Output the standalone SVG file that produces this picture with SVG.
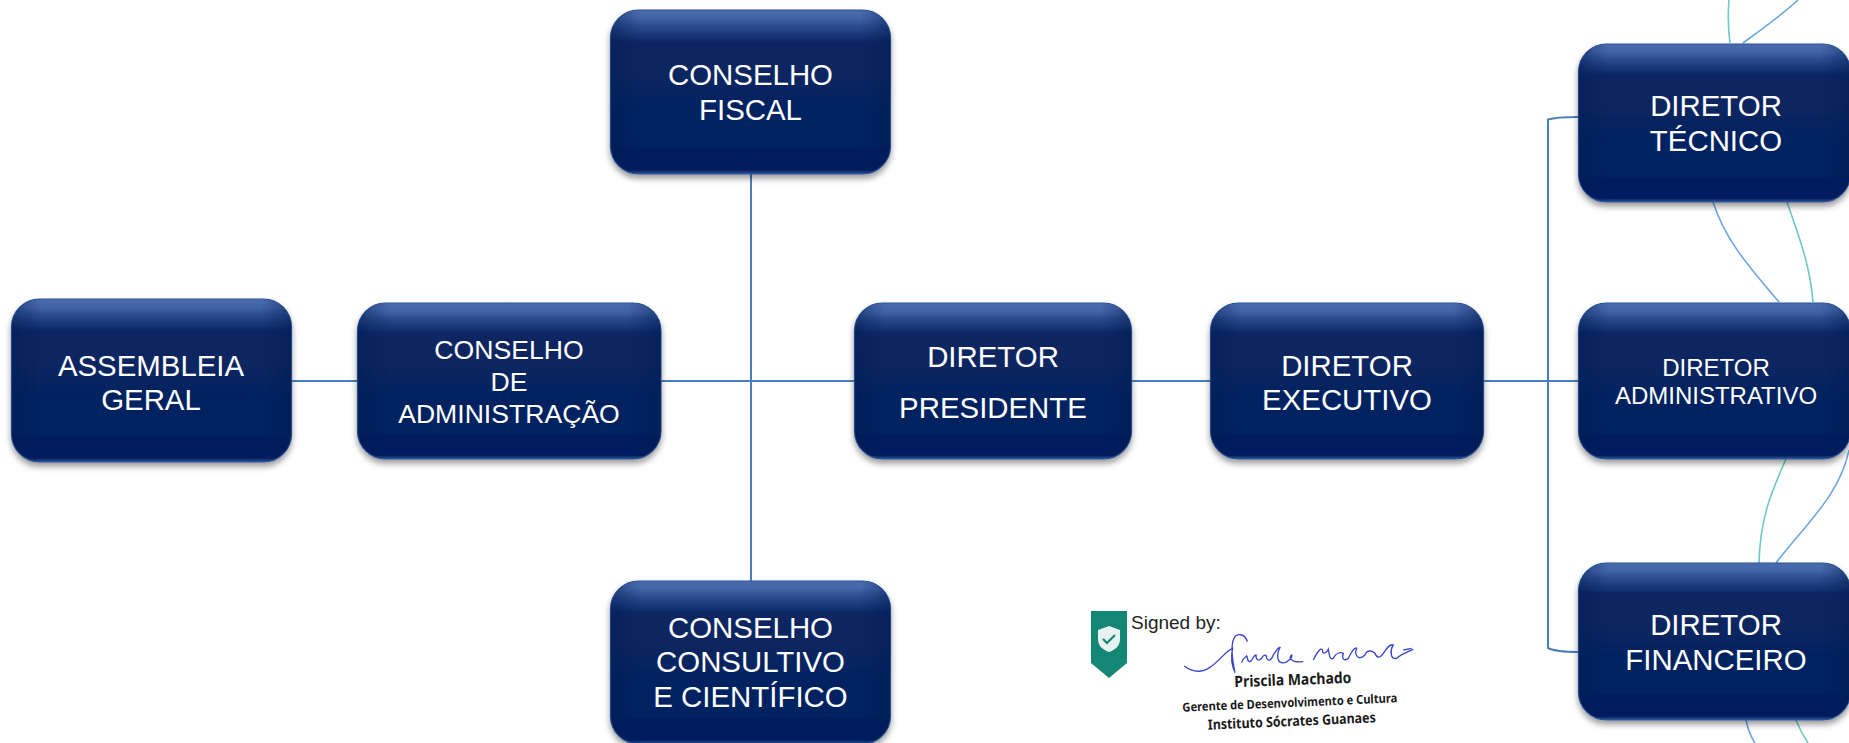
<svg xmlns="http://www.w3.org/2000/svg" width="1849" height="743" viewBox="0 0 1849 743">
<style>
.box{fill:url(#base);stroke:#2f5597;stroke-width:1.2;filter:url(#sh)}
.side{fill:url(#sideG)}
.t{font-family:"Liberation Sans",Arial,sans-serif;fill:#fff;text-anchor:middle;font-size:29.4px}
.s{font-size:26.6px}
.a{font-size:24px}
.main{fill:none;stroke:#4a7ebb;stroke-width:2}
.cb{fill:none;stroke:#6fa8dc;stroke-width:1.6}
.ct{fill:none;stroke:#6cc9c4;stroke-width:1.6}
.sig{font-family:"Noto Sans","Open Sans",sans-serif;font-weight:700;fill:#1a1a1a;text-anchor:middle}
</style>
<defs>
<linearGradient id="base" x1="0" y1="0" x2="0" y2="1">
<stop offset="0" stop-color="#4a6cae"/><stop offset=".05" stop-color="#4264a7"/><stop offset=".1" stop-color="#2b4b8d"/><stop offset=".2" stop-color="#082662"/><stop offset=".8" stop-color="#052360"/><stop offset=".87" stop-color="#001d5c"/><stop offset=".975" stop-color="#001e5e"/><stop offset="1" stop-color="#2f5597"/>
</linearGradient>
<linearGradient id="sideG" x1="0" y1="0" x2="1" y2="0">
<stop offset="0" stop-color="#001c55" stop-opacity=".5"/><stop offset=".05" stop-color="#001c55" stop-opacity=".25"/><stop offset=".11" stop-color="#001c55" stop-opacity="0"/><stop offset=".89" stop-color="#001c55" stop-opacity="0"/><stop offset=".95" stop-color="#001c55" stop-opacity=".25"/><stop offset="1" stop-color="#001c55" stop-opacity=".5"/>
</linearGradient>
<filter id="sh" x="-8%" y="-8%" width="116%" height="122%"><feDropShadow dx="0" dy="4" stdDeviation="3" flood-color="#000" flood-opacity=".4"/></filter>
</defs>
<g id="connectors">
<path class="main" d="M291 381H1578M751 174V581"/>
<path class="main" d="M1578 117Q1556 117 1548 119.500V648Q1556 652 1578 652"/>
<path class="ct" d="M1730 43C1728 28 1728 12 1729 0"/>
<path class="cb" d="M1743 43C1765 27 1782 15 1798 0"/>
<path class="cb" d="M1713 202C1725 240 1750 268 1779 302"/>
<path class="ct" d="M1787 202C1800 240 1810 265 1813 302"/>
<path class="ct" d="M1786 459C1770 495 1760 520 1759 563"/>
<path class="cb" d="M1849 450C1840 495 1805 525 1776 563"/>
<path class="cb" d="M1746 720C1748 730 1751 737 1755 743"/>
<path class="ct" d="M1796 720C1800 730 1804 737 1808 743"/>
</g>
<g id="assembleia"><rect class="box" x="11.500" y="299" width="280" height="163" rx="28"/><rect class="side" x="11.500" y="299" width="280" height="163" rx="28"/><text class="t" x="151" y="376">ASSEMBLEIA</text><text class="t" x="151" y="410">GERAL</text></g>
<g id="conselho-adm"><rect class="box" x="357.500" y="303" width="303.500" height="156" rx="28"/><rect class="side" x="357.500" y="303" width="303.500" height="156" rx="28"/><text class="t s" x="509" y="359">CONSELHO</text><text class="t s" x="509" y="391">DE</text><text class="t s" x="509" y="423">ADMINISTRAÇÃO</text></g>
<g id="conselho-fiscal"><rect class="box" x="610.500" y="10" width="280" height="164" rx="28"/><rect class="side" x="610.500" y="10" width="280" height="164" rx="28"/><text class="t" x="750.500" y="85">CONSELHO</text><text class="t" x="750.500" y="120">FISCAL</text></g>
<g id="conselho-consultivo"><rect class="box" x="610.500" y="581" width="280" height="163" rx="28"/><rect class="side" x="610.500" y="581" width="280" height="163" rx="28"/><text class="t" x="750.500" y="638">CONSELHO</text><text class="t" x="750.500" y="672">CONSULTIVO</text><text class="t" x="750.500" y="707">E CIENTÍFICO</text></g>
<g id="diretor-presidente"><rect class="box" x="854.500" y="303" width="277" height="156" rx="28"/><rect class="side" x="854.500" y="303" width="277" height="156" rx="28"/><text class="t" x="993" y="367">DIRETOR</text><text class="t" x="993" y="418">PRESIDENTE</text></g>
<g id="diretor-executivo"><rect class="box" x="1210.500" y="303" width="273" height="156" rx="28"/><rect class="side" x="1210.500" y="303" width="273" height="156" rx="28"/><text class="t" x="1347" y="376">DIRETOR</text><text class="t" x="1347" y="410">EXECUTIVO</text></g>
<g id="diretor-tecnico"><rect class="box" x="1578.500" y="44" width="272" height="158" rx="28"/><rect class="side" x="1578.500" y="44" width="272" height="158" rx="28"/><text class="t" x="1716" y="116">DIRETOR</text><text class="t" x="1716" y="151">TÉCNICO</text></g>
<g id="diretor-administrativo"><rect class="box" x="1578.500" y="303" width="272" height="156" rx="28"/><rect class="side" x="1578.500" y="303" width="272" height="156" rx="28"/><text class="t a" x="1716" y="376">DIRETOR</text><text class="t a" x="1716" y="404">ADMINISTRATIVO</text></g>
<g id="diretor-financeiro"><rect class="box" x="1578.500" y="563" width="272" height="157" rx="28"/><rect class="side" x="1578.500" y="563" width="272" height="157" rx="28"/><text class="t" x="1716" y="635">DIRETOR</text><text class="t" x="1716" y="670">FINANCEIRO</text></g>
<g id="assinatura">
<path d="M1091 611H1127V663L1109 678L1091 663Z" fill="#148674"/>
<path d="M1109 626L1120 630V639C1120 646 1115 650 1109 652C1103 650 1098 646 1098 639V630Z" fill="#e8f3f1"/>
<path d="M1103 639L1107 643L1115 635" fill="none" stroke="#148674" stroke-width="2.200"/>
<text x="1131" y="629" font-family="Liberation Sans,Arial,sans-serif" font-size="19" fill="#222">Signed by:</text>
<g transform="translate(1050 590) scale(.3333)" fill="none" stroke="#3a45c8" stroke-width="4">
<path d="M403 228C425 245 450 252 480 232C510 212 530 180 548 175C542 200 545 225 555 248C548 215 540 170 552 145C560 128 585 130 592 155"/>
<path d="M575 218C580 200 585 205 590 198C595 205 590 215 600 215C610 210 610 195 618 195C618 210 625 215 635 205C640 195 650 190 650 205C655 215 665 210 670 195C680 180 685 170 690 172C680 190 680 215 695 218C710 222 730 200 725 195C715 200 720 220 760 215"/>
<path d="M790 210C800 190 812 170 818 180C815 195 830 190 835 178C838 195 840 212 850 205C858 190 870 185 880 190C875 205 880 215 895 205C905 185 915 170 920 175C912 195 925 215 945 195C950 180 965 180 975 190C980 205 990 205 1000 190C1010 175 1020 160 1030 165C1020 180 1020 210 1040 205C1050 195 1060 190 1090 178M1060 180L1085 175"/>
</g>
<text class="sig" font-size="15.500" textLength="117" lengthAdjust="spacingAndGlyphs" transform="translate(1293 685) rotate(-2)">Priscila Machado</text>
<text class="sig" font-size="12.300" textLength="215" lengthAdjust="spacingAndGlyphs" transform="translate(1290 707) rotate(-2.500)">Gerente de Desenvolvimento e Cultura</text>
<text class="sig" font-size="14" textLength="168" lengthAdjust="spacingAndGlyphs" transform="translate(1292 726) rotate(-2.500)">Instituto Sócrates Guanaes</text>
</g>
</svg>
